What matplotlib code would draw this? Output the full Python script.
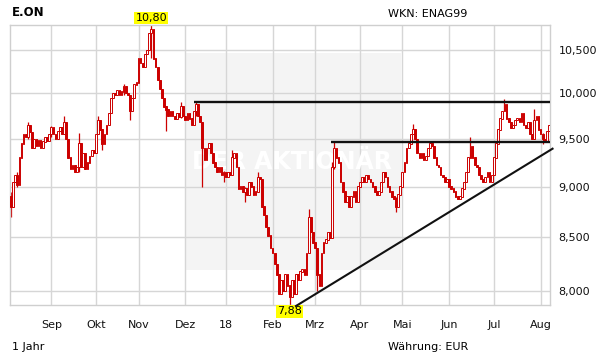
import numpy as np
import pandas as pd
import matplotlib
matplotlib.use("Agg")
import matplotlib.pyplot as plt
from matplotlib.ticker import FixedLocator, NullLocator, FuncFormatter
from matplotlib.patches import Rectangle

plt.rcParams["font.family"] = ["DejaVu Sans"]

# ---------------- data ----------------
title = "E.ON"
wkn_label = "WKN: ENAG99"
period_label = "1 Jahr"
currency_label = "Währung: EUR"
watermark = "DER AKTIONÄR"

start_date, end_date = "2017-08-07", "2018-08-07"
holidays = ["2017-10-03", "2017-10-31", "2017-12-25", "2017-12-26",
            "2018-01-01", "2018-03-30", "2018-04-02", "2018-05-01"]

first_open = 8.90
closes = [
    8.80, 9.05, 9.12, 9.02, 9.30, 9.45, 9.55, 9.52, 9.65, 9.57,
    9.40, 9.50, 9.42, 9.48, 9.40, 9.47, 9.52, 9.48, 9.55, 9.63,
    9.55, 9.50, 9.58, 9.62, 9.55, 9.68, 9.50, 9.30, 9.18, 9.22,
    9.15, 9.20, 9.45, 9.20, 9.35, 9.18, 9.25, 9.32, 9.38, 9.35,
    9.55, 9.70, 9.60, 9.45, 9.55, 9.65, 9.78, 9.95, 10.00, 9.98,
    10.03, 9.98, 10.02, 10.08, 10.00, 9.98, 9.80, 9.95, 10.10, 10.12,
    10.40, 10.35, 10.30, 10.45, 10.50, 10.70, 10.75, 10.40, 10.30, 10.15,
    10.05, 9.95, 9.85, 9.82, 9.75, 9.80, 9.75, 9.72, 9.78, 9.74,
    9.85, 9.75, 9.70, 9.78, 9.72, 9.65, 9.80, 9.88, 9.75, 9.68,
    9.40, 9.28, 9.40, 9.45, 9.35, 9.25, 9.20, 9.15, 9.20, 9.12,
    9.15, 9.10, 9.15, 9.12, 9.30, 9.35, 9.20, 8.98, 9.00, 8.95,
    8.98, 8.92, 9.05, 9.00, 8.92, 8.95, 9.10, 9.08, 8.80, 8.72,
    8.60, 8.52, 8.40, 8.35, 8.25, 8.15, 7.98, 8.10, 8.00, 8.15,
    8.05, 7.95, 8.10, 7.98, 8.15, 8.10, 8.18, 8.20, 8.15, 8.35,
    8.70, 8.55, 8.45, 8.40, 8.15, 8.05, 8.35, 8.45, 8.48, 8.55,
    8.50, 9.20, 9.40, 9.30, 9.25, 9.05, 8.95, 8.85, 8.90, 8.80,
    8.90, 8.95, 8.85, 9.00, 9.05, 9.10, 9.05, 9.12, 9.08, 9.05,
    9.00, 8.95, 8.92, 8.95, 9.05, 9.15, 9.10, 9.00, 8.95, 8.90,
    8.88, 8.80, 8.92, 9.00, 9.15, 9.25, 9.40, 9.45, 9.55, 9.60,
    9.50, 9.35, 9.30, 9.35, 9.28, 9.32, 9.40, 9.45, 9.42, 9.30,
    9.22, 9.20, 9.12, 9.10, 9.05, 9.08, 9.00, 8.98, 8.95, 8.90,
    8.88, 8.90, 8.98, 9.05, 9.15, 9.30, 9.42, 9.30, 9.22, 9.20,
    9.12, 9.08, 9.05, 9.10, 9.15, 9.05, 9.12, 9.30, 9.45, 9.60,
    9.72, 9.80, 9.88, 9.72, 9.68, 9.62, 9.65, 9.70, 9.72, 9.68,
    9.78, 9.65, 9.62, 9.68, 9.55, 9.50, 9.70, 9.75, 9.60, 9.55,
    9.50, 9.48, 9.58, 9.65,
]

# notable intraday extremes: (day index, low, high)
wicks = [
    (0, 8.70, 8.95), (3, 9.00, 9.15), (8, 9.50, 9.68), (19, 9.52, 9.64),
    (25, 9.55, 9.75), (32, 9.15, 9.56), (41, 9.55, 9.75), (43, 9.38, 9.60),
    (53, 9.98, 10.10), (56, 9.70, 9.98), (66, 10.40, 10.80), (73, 9.58, 9.86),
    (80, 9.72, 9.90), (87, 9.75, 9.91), (90, 9.00, 9.68), (100, 9.05, 9.16),
    (104, 9.12, 9.38), (110, 8.85, 9.00), (116, 8.95, 9.15), (131, 7.88, 8.06),
    (140, 8.35, 8.78), (144, 8.00, 8.40), (151, 8.85, 9.25), (152, 9.18, 9.47),
    (181, 8.75, 8.90), (189, 9.55, 9.66), (197, 9.40, 9.48), (216, 9.30, 9.52),
    (232, 9.80, 9.93), (246, 9.50, 9.82), (250, 9.44, 9.56),
]

y_ticks = [8.0, 8.5, 9.0, 9.5, 10.0, 10.5]
month_abbr = {1: "Jan", 2: "Feb", 3: "Mrz", 4: "Apr", 5: "Mai", 6: "Jun",
              7: "Jul", 8: "Aug", 9: "Sep", 10: "Okt", 11: "Nov", 12: "Dez"}

# drawn chart lines (start day index, level)
resistance_upper = (86.2, 9.90)
resistance_lower = (150.4, 9.465)
trend_start = (134.0, 7.867)
trend_end = (254.6, 9.394)

# ---------------- derived ----------------
days = pd.bdate_range(start_date, end_date)
days = days[~days.isin(pd.to_datetime(holidays))]
n = len(closes)
days = days[:n]
idx = np.arange(n)
closes = np.array(closes)
opens = np.concatenate([[first_open], closes[:-1]])

period_high = max(max(closes), max(w[2] for w in wicks))
period_low = min(min(closes), min(w[1] for w in wicks))
i_high = max(wicks, key=lambda w: w[2])[0]
i_low = min(wicks, key=lambda w: w[1])[0]

month_pos, month_lab = [], []
for k in range(1, n):
    if days[k].month != days[k - 1].month:
        month_pos.append(k)
        m = days[k].month
        month_lab.append(days[k].strftime("%y") if m == 1 else month_abbr[m])

# ---------------- figure ----------------
fig = plt.figure(figsize=(6.11, 3.64), dpi=100)
ax = fig.add_axes([10 / 611, 1 - 305 / 364, 540 / 611, 280 / 364])
ax.set_yscale("log")
ax.set_xlim(-0.4, n - 0.6)
ax.set_ylim(period_low * 0.9995, period_high)

grid_c = "#d6d6d6"
for s in ax.spines.values():
    s.set_color("#cfcfcf")
    s.set_linewidth(1.0)

ax.yaxis.set_major_locator(FixedLocator(y_ticks))
ax.yaxis.set_minor_locator(NullLocator())
ax.yaxis.set_major_formatter(FuncFormatter(lambda v, p: f"{v:.3f}".replace(".", ",")))
ax.yaxis.tick_right()
ax.xaxis.set_major_locator(FixedLocator(month_pos))
ax.set_xticklabels(month_lab)
ax.tick_params(axis="both", length=0, labelsize=8, colors="#111111")
ax.tick_params(axis="y", pad=6)
ax.tick_params(axis="x", pad=11)
ax.grid(True, color=grid_c, linewidth=1.0)
ax.set_axisbelow(True)

# watermark box
ax.add_patch(Rectangle((0.324, 0.125), 0.40, 0.775, transform=ax.transAxes,
                       facecolor="#f4f4f4", edgecolor="none", zorder=0.5))
ax.text(0.522, 0.511, watermark, transform=ax.transAxes, ha="center", va="center",
        fontsize=17, fontweight="bold", color="white", zorder=0.6)

# candles
red = "#cc0000"
up = closes >= opens
body_lo = np.minimum(opens, closes)
body_hi = np.maximum(opens, closes)
for i, lo, hi in wicks:
    ax.vlines(i, lo, hi, color=red, linewidth=0.9, zorder=2)
ax.bar(idx, body_hi - body_lo + 0.004, bottom=body_lo - 0.002, width=0.8,
       color=np.where(up, "white", red), edgecolor=red, linewidth=0.7, zorder=3)

# drawn lines
lc = "#111111"
x_end = n - 0.6
ax.plot([resistance_upper[0], x_end], [resistance_upper[1]] * 2, color=lc, lw=1.7,
        zorder=4, solid_capstyle="butt")
ax.plot([resistance_lower[0], x_end], [resistance_lower[1]] * 2, color=lc, lw=1.7,
        zorder=4, solid_capstyle="butt")
ax.plot([trend_start[0], trend_end[0]], [trend_start[1], trend_end[1]], color=lc,
        lw=1.5, zorder=6, clip_on=False)

# extreme labels
fmt2 = lambda v: f"{v:.2f}".replace(".", ",")
ax.annotate(fmt2(period_high), xy=(i_high, period_high), xytext=(0, 1.5),
            textcoords="offset points", ha="center", va="bottom", fontsize=8,
            bbox=dict(boxstyle="square,pad=0.12", fc="#ffff00", ec="none"),
            annotation_clip=False, zorder=5)
ax.annotate(fmt2(period_low), xy=(i_low, period_low * 0.9995), xytext=(0, -1),
            textcoords="offset points", ha="center", va="top", fontsize=8,
            bbox=dict(boxstyle="square,pad=0.12", fc="#ffff00", ec="none"),
            annotation_clip=False, zorder=5)

# header / footer texts
fig.text(12 / 611, 1 - 13 / 364, title, fontsize=8.5, fontweight="bold",
         ha="left", va="center")
fig.text(428 / 611, 1 - 14 / 364, wkn_label, fontsize=8, ha="center", va="center")
fig.text(12 / 611, 1 - 347 / 364, period_label, fontsize=8, ha="left", va="center")
fig.text(428 / 611, 1 - 347 / 364, currency_label, fontsize=8, ha="center", va="center")

fig.savefig("out.png", dpi=100, facecolor="white")
